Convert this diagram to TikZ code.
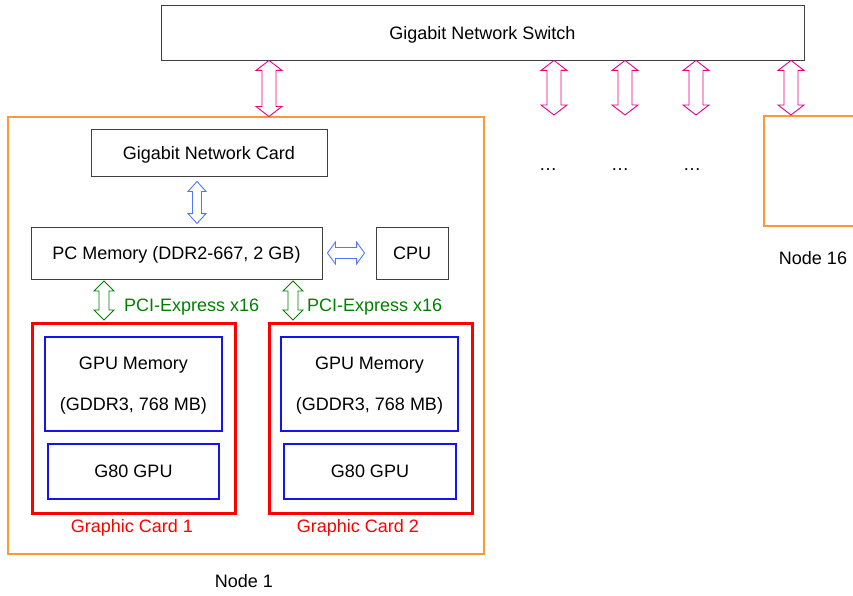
\documentclass[tikz,border=0pt]{standalone}
\usepackage{fontspec}
\setmainfont{Liberation Sans}
\usetikzlibrary{calc}

\definecolor{nodeorange}{RGB}{255,153,51}
\definecolor{linkblue}{RGB}{80,120,255}
\definecolor{pcigreen}{RGB}{0,128,0}
\definecolor{gpublue}{RGB}{20,20,240}

% outlined double arrows: style, first end, second end, head half-width, shaft half-width, head length
\newcommand{\vfat}[6]{%
  \draw[#1] let \p1=#2, \p2=#3 in
    (\x1,\y1) -- (\x1+#4,\y1-#6) -- (\x1+#5,\y1-#6) -- (\x1+#5,\y2+#6) -- (\x1+#4,\y2+#6)
    -- (\x1,\y2) -- (\x1-#4,\y2+#6) -- (\x1-#5,\y2+#6) -- (\x1-#5,\y1-#6) -- (\x1-#4,\y1-#6) -- cycle;}
\newcommand{\hfat}[6]{%
  \draw[#1] let \p1=#2, \p2=#3 in
    (\x1,\y1) -- (\x1+#6,\y1+#4) -- (\x1+#6,\y1+#5) -- (\x2-#6,\y1+#5) -- (\x2-#6,\y1+#4)
    -- (\x2,\y1) -- (\x2-#6,\y1-#4) -- (\x2-#6,\y1-#5) -- (\x1+#6,\y1-#5) -- (\x1+#6,\y1-#4) -- cycle;}

\begin{document}
\begin{tikzpicture}[x=1pt, y=-1pt,
    every node/.style={font=\fontsize{18}{21}\selectfont},
    plainbox/.style={draw=black!75, line width=0.9pt, inner sep=0pt, text depth=-1pt},
    hostbox/.style={draw=nodeorange, line width=2pt, inner sep=0pt},
    gpucard/.style={draw=red, line width=3pt, inner sep=0pt, minimum width=203pt, minimum height=190pt},
    gpubox/.style={draw=gpublue, line width=1.8pt, inner sep=0pt},
    memlines/.style={align=center, font=\fontsize{18}{41}\selectfont, text depth=-4pt},
    netlink/.style={draw=magenta, line width=0.9pt},
    buslink/.style={draw=linkblue, line width=0.9pt},
    pcilink/.style={draw=pcigreen, line width=0.9pt}]
    \useasboundingbox (0,0) rectangle (853,596);
    \clip (0,0) rectangle (853,596);

    % switch and the nodes
    \node[plainbox, minimum width=643pt, minimum height=55pt] (switch) at (482.5,32.5) {Gigabit Network Switch};
    \node[hostbox, minimum width=476pt, minimum height=436pt] (node1) at (246,335.5) {};
    \node (node1label) at (244,581) {Node 1};
    \node[hostbox, minimum width=106pt, minimum height=110pt] (node16) at (817,171) {};
    \node (node16label) at (813,258) {Node 16};
    \node[anchor=base] (dots1) at (548,171) {…};
    \node[anchor=base] (dots2) at (620,171) {…};
    \node[anchor=base] (dots3) at (692,171) {…};

    % inside node 1
    \node[plainbox, minimum width=236pt, minimum height=47pt] (nic) at (209,152.5) {Gigabit Network Card};
    \node[plainbox, minimum width=291pt, minimum height=52pt] (pcmem) at (176.5,253) {PC Memory (DDR2-667, 2 GB)};
    \node[plainbox, minimum width=72pt, minimum height=52pt] (cpu) at (412,253) {CPU};

    \node[gpucard] (gc1) at (133.5,418) {};
    \node[gpucard] (gc2) at (370.5,418) {};
    \node[gpubox, memlines, minimum width=177pt, minimum height=94pt] (gmem1) at (133.5,384) {GPU Memory\\(GDDR3, 768 MB)};
    \node[gpubox, memlines, minimum width=177pt, minimum height=94pt] (gmem2) at (369.5,384) {GPU Memory\\(GDDR3, 768 MB)};
    \node[gpubox, minimum width=171pt, minimum height=55pt, text depth=0pt] (gpu1) at (133.5,471.5) {G80 GPU};
    \node[gpubox, minimum width=172pt, minimum height=55pt, text depth=0pt] (gpu2) at (370,471.5) {G80 GPU};
    \node[red] (gc1label) at (132,528) {Graphic Card 1};
    \node[red] (gc2label) at (358,528) {Graphic Card 2};
    \node[pcigreen, anchor=west, inner sep=0pt] (pci1) at (124,307) {PCI-Express x16};
    \node[pcigreen, anchor=west, inner sep=0pt] (pci2) at (307,307) {PCI-Express x16};

    % links
    \coordinate (p1) at (269,0);
    \coordinate (e2) at (554,115);
    \coordinate (e3) at (625,115);
    \coordinate (e4) at (696,115);
    \coordinate (p5) at (791,0);
    \vfat{netlink}{(switch.south -| p1)}{(node1.north -| p1)}{13pt}{7pt}{10pt}
    \vfat{netlink}{(switch.south -| e2)}{(e2)}{13pt}{7pt}{10pt}
    \vfat{netlink}{(switch.south -| e3)}{(e3)}{13pt}{7pt}{10pt}
    \vfat{netlink}{(switch.south -| e4)}{(e4)}{13pt}{7pt}{10pt}
    \vfat{netlink}{(switch.south -| p5)}{(node16.north -| p5)}{13pt}{7pt}{10pt}

    \coordinate (b1) at (197,0);
    \vfat{buslink}{($(nic.south -| b1)+(0,5)$)}{($(pcmem.north -| b1)+(0,-3)$)}{9pt}{4.5pt}{10pt}
    \hfat{buslink}{($(pcmem.east)+(5,0)$)}{($(cpu.west)+(-11,0)$)}{11pt}{5.5pt}{8pt}

    \coordinate (g1) at (104,0);
    \coordinate (g2) at (293,0);
    \vfat{pcilink}{($(pcmem.south -| g1)+(0,1.5)$)}{($(gc1.north -| g1)+(0,-1.5)$)}{10pt}{5pt}{10pt}
    \vfat{pcilink}{($(pcmem.south -| g2)+(0,1.5)$)}{($(gc2.north -| g2)+(0,-1.5)$)}{10pt}{5pt}{10pt}
\end{tikzpicture}
\end{document}
